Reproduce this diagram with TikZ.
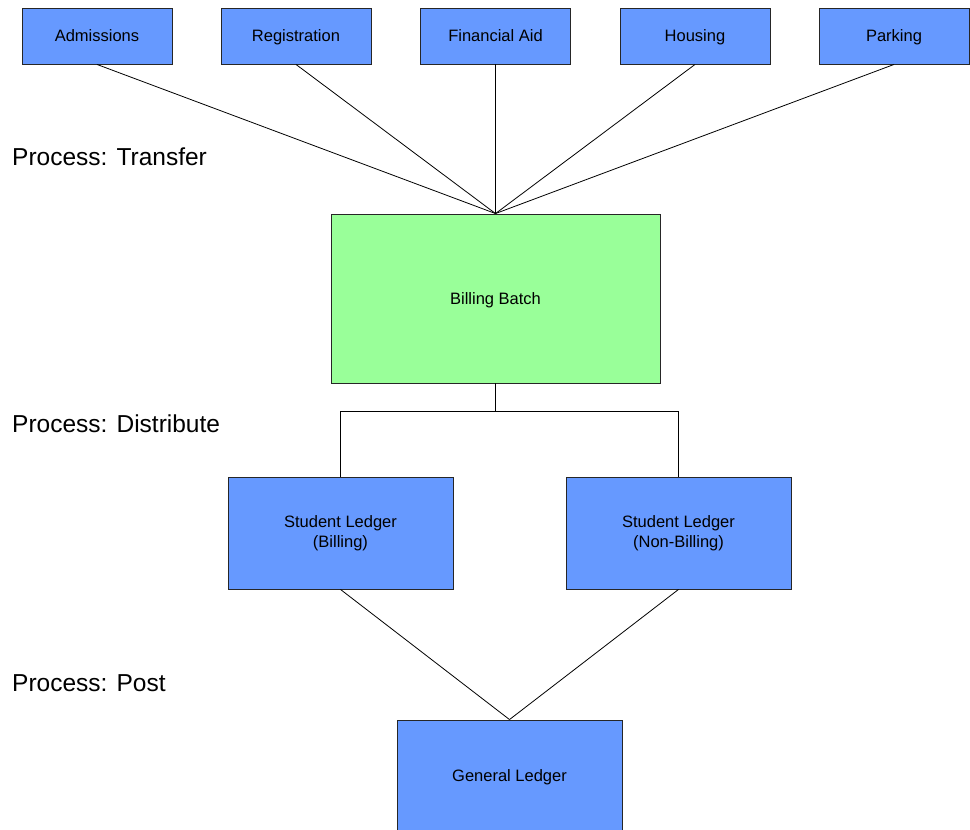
\documentclass[tikz,border=0pt]{standalone}
\usepackage{fontspec}
\setmainfont{Liberation Sans}
\definecolor{boxblue}{RGB}{102,153,255}
\definecolor{boxgreen}{RGB}{153,255,153}
\begin{document}
\begin{tikzpicture}[x=1pt,y=-1pt,
  bluebox/.style={draw=black!85,line width=0.9pt,fill=boxblue,inner sep=0pt,align=center,font=\fontsize{16.5}{19.5}\selectfont},
  greenbox/.style={draw=black!85,line width=0.9pt,fill=boxgreen,inner sep=0pt,align=center,font=\fontsize{16.5}{19.5}\selectfont},
  oneline/.style={text height=11.8pt,text depth=0pt},
  conn/.style={draw=black,line width=0.8pt},
  proclabel/.style={anchor=west,inner sep=0pt,text height=17.5pt,text depth=0pt,font=\fontsize{24.5}{28}\selectfont}]
\useasboundingbox (0,0) rectangle (970,830);
\clip (0,0) rectangle (970,830);
% top boxes
\node[bluebox,oneline,minimum width=150pt,minimum height=56pt] (adm) at (97,36) {Admissions};
\node[bluebox,oneline,minimum width=150pt,minimum height=56pt] (reg) at (296,36) {Registration};
\node[bluebox,oneline,minimum width=150pt,minimum height=56pt] (fin) at (495.5,36) {Financial Aid};
\node[bluebox,oneline,minimum width=150pt,minimum height=56pt] (hou) at (695,36) {Housing};
\node[bluebox,oneline,minimum width=150pt,minimum height=56pt] (par) at (894,36) {Parking};
% billing batch
\node[greenbox,oneline,minimum width=329pt,minimum height=169pt] (bb) at (495.5,298.5) {Billing Batch};
% ledgers
\node[bluebox,minimum width=225pt,minimum height=112pt] (slb) at (340.5,533) {Student Ledger\\(Billing)};
\node[bluebox,minimum width=225pt,minimum height=112pt] (sln) at (678.5,533) {Student Ledger\\(Non-Billing)};
\node[bluebox,oneline,minimum width=225pt,minimum height=112pt] (gl) at (509.5,776) {General Ledger};
% labels
\node[proclabel] (pt) at (12,157) {Process: Transfer};
\node[proclabel] (pd) at (12,424) {Process: Distribute};
\node[proclabel] (pp) at (12,683) {Process: Post};
% connectors
\foreach \n in {adm,reg,fin,hou,par}
  \draw[conn] (\n.south) -- (bb.north);
\coordinate (mid) at ([yshift=-28pt]bb.south);
\draw[conn] (bb.south) -- (mid);
\draw[conn] (slb.north) |- (mid) -| (sln.north);
\draw[conn] (slb.south) -- (gl.north);
\draw[conn] (sln.south) -- (gl.north);
\end{tikzpicture}
\end{document}
